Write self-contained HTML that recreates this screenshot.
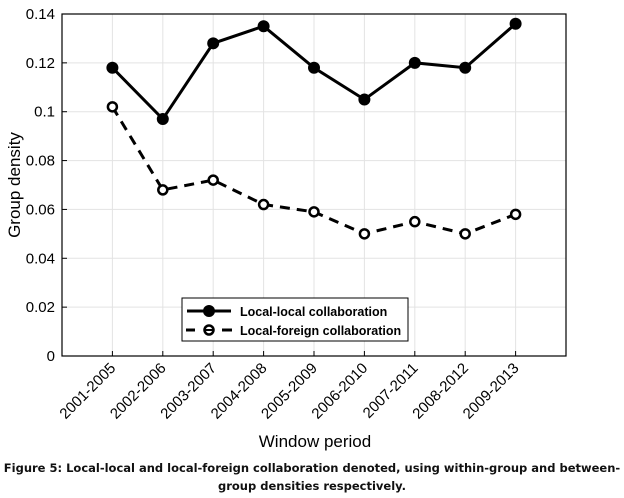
<!DOCTYPE html>
<html><head><meta charset="utf-8"><style>
body{margin:0;background:#fff;width:624px;height:498px;overflow:hidden}
svg{display:block}
text{font-family:"Liberation Sans",sans-serif;fill:#000}
.cap{font-family:"DejaVu Sans",sans-serif;font-weight:bold;font-size:11.5px;fill:#111}
</style></head><body>
<svg id="chart" width="624" height="498"></svg>
<script>
const categories=["2001-2005","2002-2006","2003-2007","2004-2008","2005-2009","2006-2010","2007-2011","2008-2012","2009-2013"];
const localLocal=[0.118,0.097,0.128,0.135,0.118,0.105,0.120,0.118,0.136];
const localForeign=[0.102,0.068,0.072,0.062,0.059,0.050,0.055,0.050,0.058];
const yTicks=[0,0.02,0.04,0.06,0.08,0.1,0.12,0.14];
const yTickLabels=["0","0.02","0.04","0.06","0.08","0.1","0.12","0.14"];

const L=62,R=566,T=14,B=356;
const xs=i=>L+(i+1)*(R-L)/10;
const ys=v=>B-v/0.14*(B-T);
const NS="http://www.w3.org/2000/svg";
const svg=document.getElementById('chart');
function mk(tag,attrs,parent){const e=document.createElementNS(NS,tag);for(const k in attrs)e.setAttribute(k,attrs[k]);(parent||svg).appendChild(e);return e;}

const grid=mk('g',{});


yTicks.forEach((v,i)=>{
  mk('line',{x1:L,x2:R,y1:ys(v),y2:ys(v),stroke:'#e3e3e3','stroke-width':1},grid);
  const t=mk('text',{x:L-7,y:ys(v)+5,'text-anchor':'end','font-size':15});
  t.textContent=yTickLabels[i];
  
  
  mk('line',{x1:L,x2:L+5,y1:ys(v),y2:ys(v),stroke:'#000'});
});
categories.forEach((c,i)=>{
  const x=xs(i);
  mk('line',{x1:x,x2:x,y1:T,y2:B,stroke:'#e3e3e3','stroke-width':1},grid);
  mk('line',{x1:x,x2:x,y1:B,y2:B-5,stroke:'#000'});
  const t=mk('text',{x:x+4,y:B+13,'text-anchor':'end','font-size':15,transform:`rotate(-45 ${x+4} ${B+13})`});
  t.textContent=c;
  
  
});
const frame=mk('rect',{x:L,y:T,width:R-L,height:B-T,fill:'none',stroke:'#000','stroke-width':1.2});



const l1=mk('polyline',{points:localLocal.map((v,i)=>xs(i)+','+ys(v)).join(' '),fill:'none',stroke:'#000','stroke-width':3});


localLocal.forEach((v,i)=>{
  const c=mk('circle',{cx:xs(i),cy:ys(v),r:6,fill:'#000'});
  
  
});
const l2=mk('polyline',{points:localForeign.map((v,i)=>xs(i)+','+ys(v)).join(' '),fill:'none',stroke:'#000','stroke-width':3,'stroke-dasharray':'10 7'});


localForeign.forEach((v,i)=>{
  const c=mk('circle',{cx:xs(i),cy:ys(v),r:4.5,fill:'#fff',stroke:'#000','stroke-width':2.5});
  
  
});

const lg=mk('g',{});


mk('rect',{x:182,y:298,width:226,height:43,fill:'#fff',stroke:'#000','stroke-width':1},lg);
mk('line',{x1:187,x2:231,y1:311,y2:311,stroke:'#000','stroke-width':3},lg);
mk('circle',{cx:209,cy:311,r:6,fill:'#000'},lg);
mk('line',{x1:186,x2:195,y1:330,y2:330,stroke:'#000','stroke-width':3},lg);
mk('line',{x1:222,x2:232,y1:330,y2:330,stroke:'#000','stroke-width':3},lg);
mk('circle',{cx:209,cy:330,r:4.5,fill:'#fff',stroke:'#000','stroke-width':2.5},lg);
mk('line',{x1:205,x2:213,y1:330,y2:330,stroke:'#000','stroke-width':2},lg);
const e1=mk('text',{x:240,y:316,'font-size':12.5,'font-weight':'bold'},lg);e1.textContent='Local-local collaboration';


const e2=mk('text',{x:240,y:335,'font-size':12.5,'font-weight':'bold'},lg);e2.textContent='Local-foreign collaboration';



const yt=mk('text',{x:20,y:185,'text-anchor':'middle','font-size':17,transform:'rotate(-90 20 185)'});yt.textContent='Group density';


const xt=mk('text',{x:315,y:447,'text-anchor':'middle','font-size':17});xt.textContent='Window period';


const c1=mk('text',{x:312,y:472,'text-anchor':'middle',class:'cap'});c1.textContent='Figure 5: Local-local and local-foreign collaboration denoted, using within-group and between-';


const c2=mk('text',{x:312,y:490,'text-anchor':'middle',class:'cap'});c2.textContent='group densities respectively.';


</script>
</body></html>
